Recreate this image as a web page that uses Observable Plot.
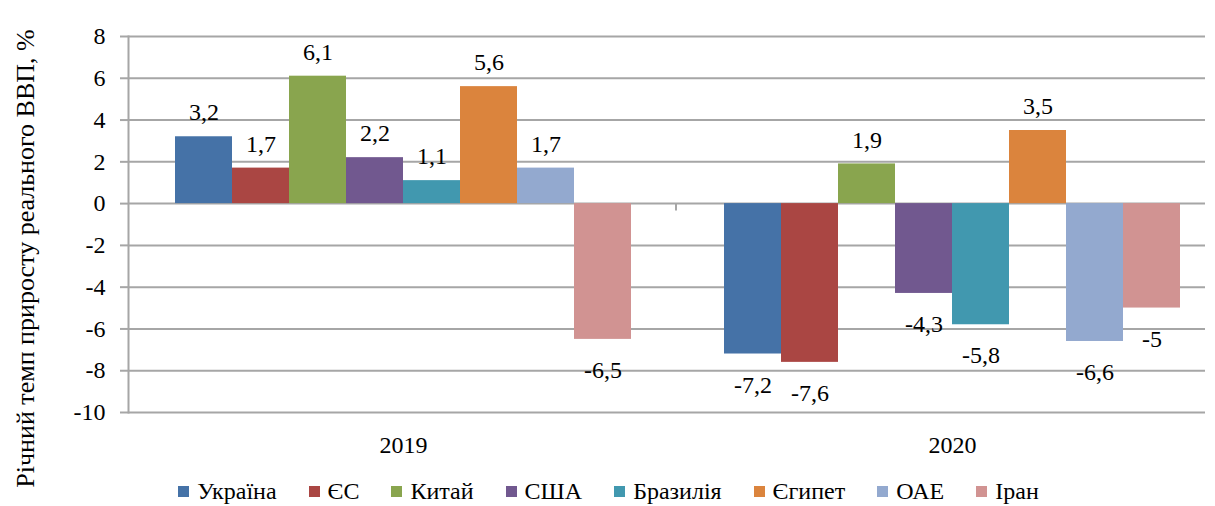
<!DOCTYPE html>
<html><head><meta charset="utf-8">
<script src="https://cdn.jsdelivr.net/npm/d3@7"></script>
<script src="https://cdn.jsdelivr.net/npm/@observablehq/plot@0.6"></script>
<style>
body{margin:0;background:#fff;font-family:"Liberation Serif","Times New Roman",Tinos,"Liberation Sans",sans-serif;}
#legend .lg-swatches{justify-content:center;font-family:"Liberation Serif","Times New Roman",Tinos,"Liberation Sans",sans-serif;font-size:24px;color:#000;margin-top:13px;margin-left:34px;}
#legend .lg-swatch{margin-right:32px;}
#legend .lg-swatch > svg{margin-right:8px;}
svg text{font-family:"Liberation Serif","Times New Roman",Tinos,"Liberation Sans",sans-serif;}
</style></head><body><div id="chart"></div><div id="legend"></div>
<script>
const countries = ["Україна","ЄС","Китай","США","Бразилія","Єгипет","ОАЕ","Іран"];
const years = ["2019","2020"];
const values2019 = [3.2,1.7,6.1,2.2,1.1,5.6,1.7,-6.5];
const values2020 = [-7.2,-7.6,1.9,-4.3,-5.8,3.5,-6.6,-5];
const colors = ["#4572A7","#AA4643","#89A54E","#71588F","#4198AF","#DB843D","#93A9CF","#D19392"];
const yTicks = [-10,-8,-6,-4,-2,0,2,4,6,8];
const yTitle = "Річний темп приросту реального ВВП, %";

const data = [
  ...countries.map((c,i)=>({year:"2019",country:c,value:values2019[i]})),
  ...countries.map((c,i)=>({year:"2020",country:c,value:values2020[i]}))
];
const fmt = v => String(v).replace(".", ",");
const grid = "#a6a6a6";
const W = 1215, H = 462, ML = 128, MR = 10;
const FONT = "Liberation Serif, Times New Roman, Tinos, Liberation Sans, sans-serif";

function makeChart(ext) {
  const first = () => years[0];
  return Plot.plot({
    width: W, height: H,
    marginLeft: ML, marginRight: MR, marginTop: 36, marginBottom: 50,
    style: {fontFamily: FONT, fontSize: "24px", color: "#000", background: "#fff", overflow: "visible"},
    fx: {domain: years, paddingInner: 0.1618, paddingOuter: 0.06, align: 0.667, label: null, axis: "bottom", tickSize: 0, tickPadding: 23},
    x: {domain: countries, padding: 0, axis: null},
    y: {domain: [-10, 8], axis: null},
    color: {domain: countries, range: colors},
    marks: [
      Plot.ruleY(yTicks, {y: d => d, fx: first, stroke: grid, strokeWidth: 2, insetLeft: -ext.left, insetRight: -ext.right}),
      Plot.axisY({ticks: yTicks, tickSize: 8, tickPadding: 15, tickFormat: d => String(d), stroke: grid, strokeWidth: 2, label: null, fontSize: 24, dx: -ext.left}),
      Plot.frame({anchor: "left", facetAnchor: "left", stroke: grid, strokeWidth: 2, dx: -ext.left}),
      Plot.ruleX([years[0]], {fx: first, x: () => countries[countries.length - 1], y1: 0, y2: -0.35, stroke: grid, strokeWidth: 2, dx: 0.5 * ext.gap + 0.5 * ext.band}),
      Plot.barY(data, {fx: "year", x: "country", y: "value", fill: "country"}),
      Plot.text(data.filter(d => d.value >= 0), {fx: "year", x: "country", y: "value", text: d => fmt(d.value), dy: -24, fontSize: 24, fill: "#000"}),
      Plot.text(data.filter(d => d.value < 0), {fx: "year", x: "country", y: "value", text: d => fmt(d.value), dy: 31, fontSize: 24, fill: "#000"}),
      Plot.text([yTitle], {fx: first, frameAnchor: "left", textAnchor: "middle", rotate: -90, dx: -103 - ext.left, dy: 34, fontSize: 26, fill: "#000"})
    ]
  });
}

const probe = makeChart({left: 0, right: 0, gap: 0, band: 0});
const fxs = probe.scale("fx");
const xs = probe.scale("x");
const start = fxs.apply(years[0]);
const ext = {
  left: start - ML,
  right: (W - MR) - (start + fxs.bandwidth),
  gap: fxs.apply(years[1]) - start - fxs.bandwidth,
  band: xs.bandwidth
};
const chart = makeChart(ext);
document.getElementById("chart").append(chart);

const legend = Plot.legend({legend: "swatches", color: {type: "ordinal", domain: countries, range: colors}, swatchSize: 11, className: "lg"});
document.getElementById("legend").append(legend);
</script></body></html>
